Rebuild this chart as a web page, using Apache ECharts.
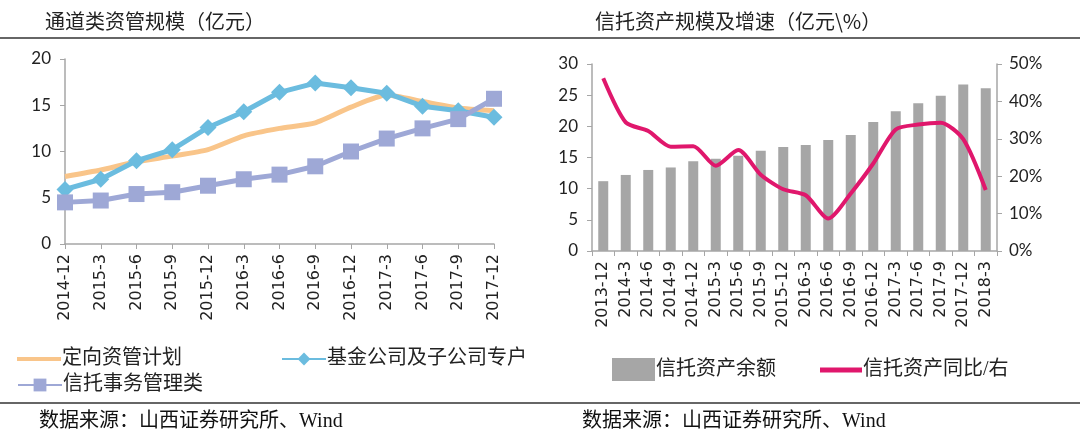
<!DOCTYPE html>
<html>
<head>
<meta charset="utf-8">
<script src="https://cdn.jsdelivr.net/npm/echarts@6/dist/echarts.min.js"></script>
<style>
  html, body { margin: 0; padding: 0; background: #fff; }
  #container { width: 1080px; height: 434px; }
</style>
</head>
<body>
<div id="container"></div>
<script>
// 左图：通道类资管规模（亿元）
var leftCats = ['2014-12','2015-3','2015-6','2015-9','2015-12','2016-3','2016-6','2016-9','2016-12','2017-3','2017-6','2017-9','2017-12'];
var dingxiang = [7.3, 8.0, 8.9, 9.5, 10.2, 11.7, 12.5, 13.1, 14.8, 16.1, 15.4, 14.7, 14.4];
var jijin = [5.9, 7.0, 9.0, 10.2, 12.6, 14.3, 16.4, 17.4, 16.9, 16.3, 14.9, 14.4, 13.7];
var xintuoShiwu = [4.5, 4.7, 5.4, 5.6, 6.3, 7.0, 7.5, 8.4, 10.0, 11.4, 12.5, 13.5, 15.7];

// 右图：信托资产规模及增速
var rightCats = ['2013-12','2014-3','2014-6','2014-9','2014-12','2015-3','2015-6','2015-9','2015-12','2016-3','2016-6','2016-9','2016-12','2017-3','2017-6','2017-9','2017-12','2018-3'];
var xintuoYue = [11.2, 12.2, 13.0, 13.4, 14.4, 14.8, 15.3, 16.1, 16.7, 17.0, 17.8, 18.6, 20.7, 22.4, 23.7, 24.9, 26.7, 26.1];
var xintuoTongbi = [46.2, 34.4, 32.1, 27.9, 28.0, 22.8, 27.0, 20.4, 16.5, 14.9, 8.7, 15.4, 23.4, 32.5, 33.8, 34.3, 29.9, 16.3];

var numFont = 'Lato, "Open Sans", sans-serif';
var tickFont = '"DejaVu Sans", sans-serif';
var cnFont = '"Noto Sans CJK SC", sans-serif';
var serifFont = '"Liberation Serif", "Noto Sans CJK SC", serif';
var axisGray = '#a6a6a6';
var legendText = { fontFamily: serifFont, fontSize: 20, color: '#222', padding: [0, 0, 0, -4] };

var myChart = echarts.init(document.getElementById('container'));

var option = {
    animation: false,
    backgroundColor: '#fff',
    title: [
        { text: '通道类资管规模（亿元）', left: 40, top: 6,
          textStyle: { fontFamily: cnFont, fontSize: 20, fontWeight: 'normal', color: '#222' } },
        { text: '信托资产规模及增速（亿元\\%）', left: 590, top: 6,
          textStyle: { fontFamily: cnFont, fontSize: 20, fontWeight: 'normal', color: '#222' } },
        { text: '数据来源：山西证券研究所、Wind', left: 34, top: 407,
          textStyle: { fontFamily: serifFont, fontSize: 20, fontWeight: 'normal', color: '#111' } },
        { text: '数据来源：山西证券研究所、Wind', left: 577, top: 407,
          textStyle: { fontFamily: serifFont, fontSize: 20, fontWeight: 'normal', color: '#111' } }
    ],
    graphic: [
        { type: 'line', shape: { x1: 0, y1: 38, x2: 1080, y2: 38 }, style: { stroke: '#333', lineWidth: 1.5 } },
        { type: 'line', shape: { x1: 0, y1: 403, x2: 1080, y2: 403 }, style: { stroke: '#333', lineWidth: 1.5 } }
    ],
    legend: [
        { data: ['定向资管计划'], icon: 'rect', left: 12, top: 344, itemWidth: 44, itemHeight: 4,
          textStyle: legendText },
        { data: ['基金公司及子公司专户'], left: 276, top: 344, itemWidth: 44, itemHeight: 16,
          textStyle: legendText },
        { data: ['信托事务管理类'], left: 12, top: 370, itemWidth: 44, itemHeight: 16,
          textStyle: legendText },
        { data: ['信托资产余额'], icon: 'rect', left: 607, top: 353, itemWidth: 43, itemHeight: 23,
          textStyle: legendText },
        { data: ['信托资产同比/右'], icon: 'rect', left: 815, top: 355, itemWidth: 42, itemHeight: 5,
          textStyle: legendText }
    ],
    grid: [
        { left: 65, top: 59, width: 429, height: 185 },
        { left: 592, top: 64, width: 405, height: 187 }
    ],
    xAxis: [
        { type: 'category', gridIndex: 0, data: leftCats, boundaryGap: false,
          axisLine: { lineStyle: { color: axisGray, width: 1.5 } },
          axisTick: { show: true, alignWithLabel: true, length: 5, lineStyle: { color: axisGray } },
          axisLabel: { rotate: 90, fontFamily: tickFont, fontSize: 16, color: '#222', margin: 10 } },
        { type: 'category', gridIndex: 1, data: rightCats, boundaryGap: true,
          axisLine: { lineStyle: { color: axisGray, width: 1.5 } },
          axisTick: { show: true, length: 5, lineStyle: { color: axisGray } },
          axisLabel: { rotate: 90, interval: 0, fontFamily: tickFont, fontSize: 16, color: '#222', margin: 10 } }
    ],
    yAxis: [
        { type: 'value', gridIndex: 0, min: 0, max: 20, interval: 5,
          axisLine: { show: true, lineStyle: { color: axisGray, width: 1.5 } },
          axisTick: { show: true, inside: false, length: 5, lineStyle: { color: axisGray } },
          splitLine: { show: false },
          axisLabel: { fontFamily: numFont, fontSize: 17, color: '#222', margin: 14 } },
        { type: 'value', gridIndex: 1, min: 0, max: 30, interval: 5,
          axisLine: { show: true, lineStyle: { color: axisGray, width: 1.5 } },
          axisTick: { show: true, length: 5, lineStyle: { color: axisGray } },
          splitLine: { show: false },
          axisLabel: { fontFamily: numFont, fontSize: 17, color: '#222', margin: 14 } },
        { type: 'value', gridIndex: 1, position: 'right', min: 0, max: 50, interval: 10,
          axisLine: { show: true, lineStyle: { color: axisGray, width: 1.5 } },
          axisTick: { show: true, length: 5, lineStyle: { color: axisGray } },
          splitLine: { show: false },
          axisLabel: { fontFamily: numFont, fontSize: 17, color: '#222', margin: 12, formatter: '{value}%' } }
    ],
    series: [
        { name: '定向资管计划', type: 'line', xAxisIndex: 0, yAxisIndex: 0, data: dingxiang,
          smooth: 0.2, symbol: 'none', color: '#F9C58A',
          lineStyle: { width: 5, color: '#F9C58A' } },
        { name: '基金公司及子公司专户', type: 'line', xAxisIndex: 0, yAxisIndex: 0, data: jijin,
          symbol: 'diamond', symbolSize: 17, color: '#6BBCDF',
          lineStyle: { width: 5, color: '#6BBCDF' }, itemStyle: { color: '#6BBCDF' } },
        { name: '信托事务管理类', type: 'line', xAxisIndex: 0, yAxisIndex: 0, data: xintuoShiwu,
          symbol: 'rect', symbolSize: 16, color: '#9EA8D6',
          lineStyle: { width: 5, color: '#9EA8D6' }, itemStyle: { color: '#9EA8D6' } },
        { name: '信托资产余额', type: 'bar', xAxisIndex: 1, yAxisIndex: 1, data: xintuoYue,
          barWidth: 10, color: '#A6A6A6', itemStyle: { color: '#A6A6A6' } },
        { name: '信托资产同比/右', type: 'line', xAxisIndex: 1, yAxisIndex: 2, data: xintuoTongbi,
          smooth: 0.25, symbol: 'none', color: '#E0176C',
          lineStyle: { width: 4, color: '#E0176C' } }
    ]
};

myChart.setOption(option, true);
</script>
</body>
</html>
